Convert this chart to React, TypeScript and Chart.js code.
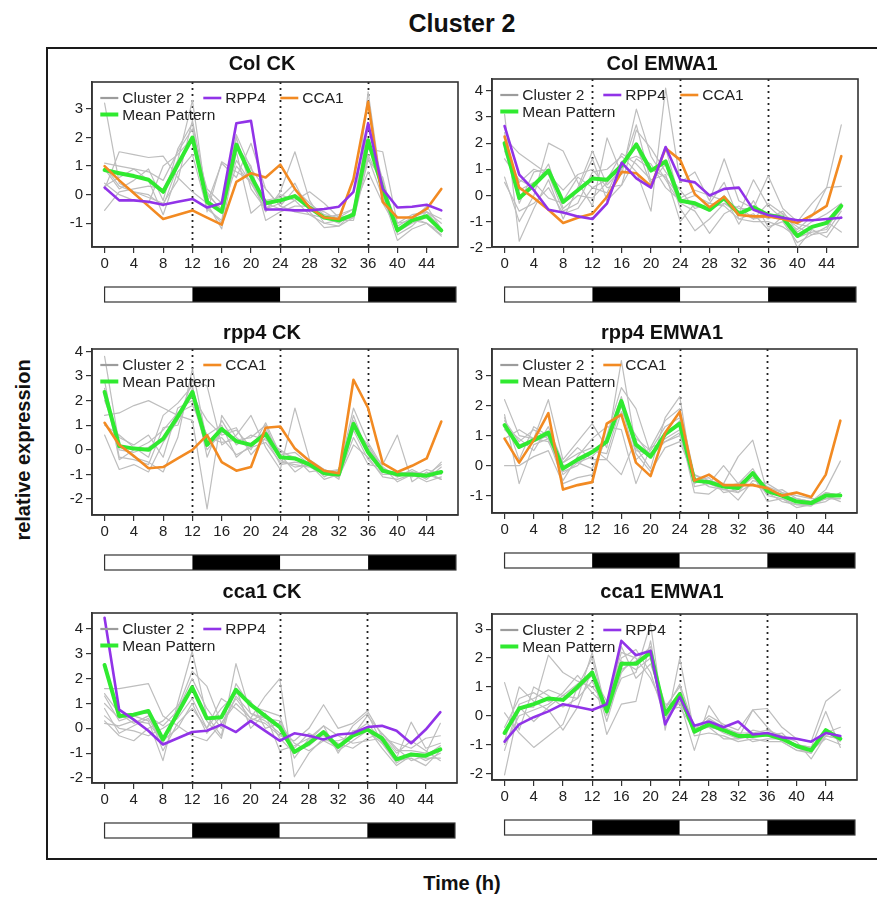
import React, { useEffect, useRef } from "react";
import { Chart, registerables } from "chart.js";

Chart.register(...registerables);

// ---------------- DATA ----------------
const HOURS = [0, 2, 4, 6, 8, 10, 12, 14, 16, 18, 20, 22, 24, 26, 28, 30, 32, 34, 36, 38, 40, 42, 44, 46];
const X_TICKS = [0, 4, 8, 12, 16, 20, 24, 28, 32, 36, 40, 44];
const DIVIDER_HOURS = [12, 24, 36];
const BAR_STARTS = [0, 12, 24, 36];
const BAR_ENDS = [12, 24, 36, 48];
const BAR_FILLS = ["#ffffff", "#000000", "#ffffff", "#000000"];

const PANEL_TITLES = ["Col CK", "Col EMWA1", "rpp4 CK", "rpp4 EMWA1", "cca1 CK", "cca1 EMWA1"];
const MAIN_TITLE = "Cluster 2";
const Y_LABEL = "relative expression";
const X_LABEL = "Time (h)";
const LEGEND_CLUSTER = "Cluster 2";
const LEGEND_MEAN = "Mean Pattern";
const LEGEND_RPP4 = "RPP4";
const LEGEND_CCA1 = "CCA1";

// Col CK
const colCK_yTicks = [-1, 0, 1, 2, 3];
const colCK_cluster = [
  [3.2, 0.4, 0.1, -0.1, -0.3, 0.5, 2.6, 0.0, -0.5, 1.2, 0.4, -0.5, -0.3, 0.0, -0.5, -0.8, -1.0, -0.6, 2.4, 0.5, -1.3, -1.0, -0.8, -1.3],
  [0.2, 1.5, 1.4, 1.3, 1.35, 0.6, 0.1, -0.3, 1.1, 0.6, 1.8, 0.2, -0.4, 0.2, -0.3, -0.7, -0.8, -0.7, 1.6, 1.5, -1.0, -0.7, -0.6, -1.0],
  [-0.55, 0.1, 0.2, 0.3, 0.2, 1.2, 3.3, -0.3, -1.2, 1.5, -0.65, -0.2, -0.1, 0.4, -0.6, -1.15, -1.1, -0.8, 3.6, 0.0, -1.6, -1.2, -1.0, -1.45],
  [1.1, 1.0, 0.9, 0.8, 0.5, 1.5, 2.3, -0.6, 1.15, 0.8, 0.5, -0.6, 0.1, 1.5, -0.2, -1.0, -0.9, -0.9, 1.2, 0.6, -1.4, -1.1, -0.6, -0.85],
  [0.3, 0.6, 0.9, 0.5, -0.7, 0.8, 1.4, -0.5, -0.9, 1.7, 1.0, -0.9, -0.6, -0.4, -0.4, -0.6, -0.9, -0.8, 1.4, 0.3, -1.0, -0.9, -0.4, -1.2],
  [1.0, 0.3, 0.1, 0.0, -0.4, 1.0, 2.0, 0.2, -0.3, 2.1, 0.9, 0.2, -0.4, -0.6, -0.7, -0.8, -0.7, -0.5, 1.9, 0.0, -1.1, -0.8, -1.0, -1.4],
  [0.4, 0.0, -0.2, -0.3, 1.0, 1.4, 2.0, 0.1, -0.6, 1.0, 0.4, -0.3, -0.5, -0.2, 0.1, -0.3, -0.8, -0.5, 0.8, -0.3, -1.2, -0.9, -1.0, -1.3],
  [0.9, 0.2, 0.5, 0.9, -0.2, 1.6, 2.5, -0.4, -1.0, 2.0, 0.2, -0.5, 0.0, -0.2, -0.7, -1.0, -1.1, -0.6, 1.3, -0.1, -1.3, -0.8, -0.6, -1.2],
];
const colCK_mean = [0.86, 0.75, 0.65, 0.52, 0.1, 1.05, 2.0, -0.25, -0.6, 1.75, 0.65, -0.3, -0.2, -0.05, -0.45, -0.8, -0.9, -0.7, 1.9, 0.2, -1.25, -0.9, -0.75, -1.25];
const colCK_RPP4 = [0.25, -0.2, -0.2, -0.25, -0.35, -0.25, -0.15, -0.45, -0.3, 2.5, 2.58, -0.52, -0.52, -0.55, -0.55, -0.5, -0.42, 0.1, 2.5, 0.2, -0.45, -0.42, -0.35, -0.55];
const colCK_CCA1 = [1.0, 0.5, 0.05, -0.4, -0.85, -0.7, -0.55, -0.8, -1.05, 0.45, 0.75, 0.6, 1.05, 0.2, -0.45, -0.8, -0.85, 0.55, 3.25, -0.25, -0.8, -0.8, -0.5, 0.2];

// Col EMWA1
const colEM_yTicks = [-2, -1, 0, 1, 2, 3, 4];
const colEM_cluster = [
  [3.1, -1.75, -0.5, 0.6, -0.9, 0.3, 1.7, 0.4, 1.0, 2.7, 0.5, 1.2, -0.5, -1.35, -0.9, -0.3, -0.7, 0.6, -0.4, -0.9, -1.3, -0.8, 0.3, 2.7],
  [0.7, -1.0, 0.0, 2.0, 1.7, 0.5, -0.4, 2.2, 0.8, 3.3, 1.5, 0.6, -0.3, -0.6, -1.45, -0.7, -0.4, -0.9, -0.3, -0.7, -1.1, -1.2, -1.0, -1.4],
  [2.2, 1.6, 1.2, 0.8, -0.6, -0.3, 0.9, 1.0, 1.5, 0.9, -0.6, 4.1, 0.5, 0.9, -0.2, 1.4, -0.2, -0.5, 0.75, -0.5, -1.0, -0.3, 0.3, 0.35],
  [0.5, -0.6, -0.3, 0.3, -0.7, -0.5, 0.3, 0.6, 1.6, 1.2, 0.6, 0.8, -1.0, -0.3, -0.6, 0.0, -1.1, -0.2, -1.2, -1.0, -1.8, -1.5, -1.2, -0.5],
  [1.7, 0.2, 0.5, -0.1, -0.3, 0.2, 1.4, -0.2, 0.4, 2.5, 1.8, 0.9, 0.2, -0.5, -0.3, 0.5, -0.9, -1.0, -1.0, -1.2, -1.6, -1.4, -1.3, -0.3],
  [2.4, -0.3, 0.9, 1.0, -0.2, 0.7, 0.3, 0.1, 1.3, 1.5, 1.2, 0.3, -0.2, 0.0, -0.3, -0.4, -0.9, -0.7, -1.3, -0.8, -1.2, -1.5, -1.4, -0.6],
  [1.4, 0.6, 0.3, 1.2, -0.5, 0.0, -0.1, 0.5, 1.2, 1.9, 0.4, 1.8, -0.2, -0.4, -0.5, -0.3, -0.6, -0.9, -0.8, -0.7, -2.0, -1.3, -1.6, -0.8],
  [1.8, 0.5, 1.0, 0.8, 0.2, 0.8, 1.0, 0.3, 0.4, 1.4, 1.0, 0.7, -0.1, 0.2, 0.0, -0.2, -0.5, -0.5, -0.9, -0.6, -1.4, -1.0, -0.7, -0.3],
];
const colEM_mean = [2.0, -0.1, 0.4, 0.95, -0.25, 0.2, 0.65, 0.6, 1.15, 1.95, 0.95, 1.3, -0.2, -0.3, -0.55, -0.1, -0.7, -0.45, -0.75, -0.85, -1.55, -1.2, -1.05, -0.4];
const colEM_RPP4 = [2.65, 0.8, 0.2, -0.55, -0.65, -0.8, -0.9, -0.3, 1.25, 0.65, 0.3, 1.85, 0.6, 0.5, 0.0, 0.25, 0.3, -0.55, -0.75, -0.85, -0.95, -0.95, -0.9, -0.85];
const colEM_CCA1 = [2.25, 0.3, -0.1, -0.55, -1.05, -0.85, -0.7, -0.05, 0.9, 0.85, 0.35, 1.8, 1.35, 0.05, -0.45, -0.05, -0.75, -0.8, -0.8, -0.9, -1.05, -0.75, -0.4, 1.5];

// rpp4 CK
const rppCK_yTicks = [-2, -1, 0, 1, 2, 3, 4];
const rppCK_cluster = [
  [3.8, 0.2, -0.3, -0.5, -0.9, 0.5, 3.3, 0.3, 0.5, -0.2, 0.1, 0.3, -0.5, -0.6, -0.7, -1.0, -0.9, 1.7, 0.3, -0.7, -1.1, -0.9, -1.2, -0.7],
  [1.4, 1.5, 1.8, 2.0, 1.7, 1.4, 1.2, -2.4, 1.4, 0.5, 0.0, 1.1, -0.2, -0.9, -0.5, -1.1, -0.8, 1.2, 0.0, -0.6, 0.6, -1.3, -0.9, -1.2],
  [0.6, -0.8, -0.6, -0.9, 0.3, 1.2, 2.8, 2.6, 0.2, 0.6, 1.4, 0.1, -0.8, 1.7, -0.4, -0.8, -1.2, 0.8, -0.4, -1.0, -1.0, -0.9, -1.0, -0.6],
  [2.5, -0.4, 0.0, 0.3, 0.8, 1.5, 1.8, 0.6, 1.0, -0.3, 0.2, 0.8, -0.1, -0.3, -0.9, -0.8, -1.1, 0.2, -0.3, -1.1, -1.2, -1.0, -1.3, -1.1],
  [2.0, 0.5, 0.2, 0.6, -0.3, 1.7, 2.0, 0.0, 0.7, 0.9, -0.2, 0.5, -0.6, -0.5, -0.6, -1.2, -1.0, 1.4, -0.2, -0.9, -0.9, -1.1, -0.8, -1.0],
  [2.8, -0.3, -0.4, -0.6, 0.9, 1.0, 2.5, 0.5, 0.3, 0.4, 0.5, 1.0, -0.4, -0.7, -0.6, -0.9, -0.8, 0.9, 0.2, -0.8, -1.1, -0.8, -1.1, -0.5],
  [1.0, 0.6, 0.1, -0.3, 1.4, 1.9, 2.6, -0.3, 1.2, 0.2, 0.6, 0.4, 0.0, -0.4, -0.5, -1.0, -1.1, 0.5, -0.6, -0.7, -1.3, -1.0, -1.0, -1.2],
  [2.4, 0.0, -0.1, 0.1, 0.5, 1.5, 2.2, 1.2, 0.6, 0.8, 0.1, 0.7, -0.2, -0.1, -0.6, -0.8, -1.0, 1.0, 0.1, -0.9, -0.9, -1.0, -1.1, -0.9],
];
const rppCK_mean = [2.35, 0.15, 0.05, 0.0, 0.45, 1.35, 2.35, 0.2, 0.85, 0.35, 0.2, 0.65, -0.3, -0.35, -0.6, -0.95, -1.0, 1.05, -0.1, -0.85, -1.0, -1.0, -1.05, -0.9];
const rppCK_CCA1 = [1.1, 0.2, -0.25, -0.75, -0.7, -0.35, 0.0, 0.6, -0.5, -0.85, -0.7, 0.9, 0.95, 0.05, -0.45, -0.85, -0.95, 2.85, 1.7, -0.55, -0.9, -0.65, -0.35, 1.15];

// rpp4 EMWA1
const rppEM_yTicks = [-1, 0, 1, 2, 3];
const rppEM_cluster = [
  [2.2, 1.0, 0.9, 2.2, 0.2, 0.8, 1.4, 0.6, 3.5, 0.6, -0.1, 1.6, 2.3, -0.7, -0.6, 0.0, -0.6, -0.3, -1.2, -1.1, -1.3, -1.35, -1.0, -1.2],
  [0.0, 0.0, 0.3, 0.5, -0.6, -0.4, -0.3, 1.0, 2.6, 1.9, 0.4, 0.9, 1.2, -0.9, -0.95, -0.6, 0.3, 0.85, -0.9, -1.0, -1.1, -1.2, -0.8, 0.15],
  [1.7, -0.6, 0.7, 0.9, -0.5, 0.3, 0.9, 1.3, 1.2, -0.6, 0.6, 0.8, 1.1, -0.3, -0.5, -0.7, -1.15, -0.5, -0.6, -0.9, -1.2, -1.3, -0.9, -1.0],
  [1.2, 0.7, 0.8, 1.0, 0.1, 0.6, 0.2, 0.2, -0.3, 0.9, 0.5, 1.3, 1.6, -0.5, -0.4, -0.9, -0.8, -0.4, -0.7, -0.9, -1.0, -1.1, -1.1, -1.1],
  [1.5, 0.8, 1.2, 0.9, 0.0, 0.1, -0.1, 0.9, 2.3, 0.4, -0.2, 0.6, 0.8, -0.4, -0.7, -0.8, -0.9, -0.6, -0.9, -1.2, -1.3, -1.3, -1.2, -0.9],
  [0.9, 1.2, 0.9, 0.8, -0.2, 0.0, 0.5, 0.4, 2.0, 0.2, 0.6, 1.5, 1.9, -0.3, -0.6, -0.8, -0.7, -0.2, -0.8, -1.0, -1.2, -1.3, -1.1, -1.0],
  [1.3, 0.9, 0.5, 1.3, 0.1, 0.4, 0.6, 0.2, 1.8, 1.0, 0.3, 0.8, 1.0, -0.6, -0.3, -0.7, -0.6, -0.1, -0.9, -0.8, -1.1, -1.2, -0.9, -1.0],
  [1.6, 0.2, 1.3, 1.0, -0.3, 0.1, 0.3, 0.8, 2.2, 0.5, 0.4, 1.0, 1.5, -0.5, -0.5, -0.6, -0.9, -0.3, -1.0, -1.1, -1.4, -1.3, -1.1, -1.1],
];
const rppEM_mean = [1.35, 0.62, 0.85, 1.1, -0.1, 0.2, 0.45, 0.8, 2.15, 0.7, 0.3, 1.05, 1.4, -0.5, -0.55, -0.7, -0.75, -0.25, -0.85, -1.0, -1.2, -1.25, -1.0, -1.0];
const rppEM_CCA1 = [0.9, 0.1, 0.85, 1.75, -0.8, -0.65, -0.55, 1.4, 1.7, 0.1, -0.35, 1.1, 1.8, -0.5, -0.3, -0.65, -0.65, -0.65, -0.75, -1.0, -0.9, -1.05, -0.3, 1.5];

// cca1 CK
const ccaCK_yTicks = [-2, -1, 0, 1, 2, 3, 4];
const ccaCK_cluster = [
  [1.6, 1.6, 1.7, 1.8, 0.5, 0.1, -0.3, -0.5, 0.2, 1.0, 0.4, 0.2, -0.3, -0.5, 0.0, 0.95, 0.0, 0.2, 0.7, -0.3, -1.0, -0.5, -0.9, -1.3],
  [1.3, 0.3, 0.5, 0.3, -1.3, 1.0, 3.1, 0.5, -0.3, 2.6, 0.6, 0.3, -0.2, -0.9, -0.7, -0.2, -0.9, -0.5, -0.1, -0.6, -1.3, -1.2, -1.5, -0.9],
  [0.8, -0.2, 0.1, 0.4, -0.6, 0.8, 2.3, 1.7, 0.2, 1.2, 0.4, 1.3, 2.0, -1.95, -1.0, -0.4, -0.7, -0.2, 0.2, -0.5, -1.2, 0.25, -0.8, -0.6],
  [0.5, 0.0, -0.1, -0.3, 0.0, 0.4, 1.2, 0.0, 1.2, 0.8, 0.3, 0.6, -0.9, -0.7, -0.4, -0.3, -0.6, -0.8, -0.4, -0.2, -0.9, -0.9, -1.0, 0.2],
  [0.3, -0.3, -0.5, 0.0, 0.3, 0.9, 1.6, 0.3, -0.4, 1.8, 0.9, 0.7, 0.5, -1.2, -0.4, 0.1, -1.0, -0.1, 0.0, -0.8, -1.5, -1.1, -1.2, -1.2],
  [1.0, 0.4, 0.6, 0.6, -0.9, 0.2, 0.8, 0.0, 0.8, 1.4, 1.1, 0.0, 0.2, -0.6, -0.9, -0.5, -0.5, -0.3, 0.5, -0.2, -0.8, -1.3, -1.1, -0.7],
  [0.2, 0.1, 0.3, 0.2, -0.5, 0.0, 1.0, -0.2, 0.5, 1.6, 0.0, 0.6, -0.4, -1.0, -0.5, 0.1, -0.3, -0.6, -0.5, -0.4, -0.6, -0.8, -0.4, -0.3],
  [1.4, 0.6, 0.2, 0.5, 0.1, 0.7, 2.0, 0.8, 0.0, 1.3, 0.6, 0.4, 0.3, -0.8, -0.2, -0.5, -0.8, 0.1, 0.6, -0.6, -1.4, -1.0, -1.3, -1.0],
];
const ccaCK_mean = [2.55, 0.5, 0.55, 0.7, -0.45, 0.6, 1.65, 0.4, 0.45, 1.55, 0.95, 0.5, 0.05, -0.95, -0.6, -0.15, -0.75, -0.3, -0.05, -0.4, -1.25, -1.05, -1.1, -0.85];
const ccaCK_RPP4 = [4.45, 0.75, 0.35, -0.1, -0.65, -0.4, -0.15, -0.1, 0.15, -0.15, 0.3, -0.1, -0.5, -0.2, -0.3, -0.45, -0.25, -0.2, 0.05, 0.1, -0.1, -0.6, -0.05, 0.65];

// cca1 EMWA1
const ccaEM_yTicks = [-2, -1, 0, 1, 2, 3];
const ccaEM_cluster = [
  [1.15, -0.5, 1.0, 0.7, 0.3, 0.6, 2.2, 0.1, 1.3, 1.5, 3.2, -0.5, 2.0, -0.6, -0.3, -0.6, -0.8, -0.5, -0.6, -0.7, -0.9, -1.5, -0.7, -0.8],
  [-2.05, 0.3, 0.3, 2.1, 1.5, 1.2, 1.0, 0.4, 2.2, 2.0, 1.3, 0.2, 0.3, -0.5, 0.0, -0.3, -0.5, 0.2, 0.25, -0.4, -0.8, -0.9, 0.5, 0.9],
  [-0.9, 1.0, 0.5, 0.2, -0.5, 0.3, 1.6, -0.65, 0.4, 0.5, 2.6, -0.2, 0.5, -1.2, 0.35, -0.4, -0.7, -0.6, -0.7, -0.8, -1.0, -1.1, 0.15, -1.1],
  [0.1, -0.6, -1.1, -0.7, -0.3, 1.0, 2.0, 0.0, 1.6, 1.9, 2.4, 0.1, 0.8, -0.7, -0.6, -0.7, -0.9, -0.8, -0.9, -0.9, -1.2, -1.2, -0.8, -1.0],
  [-1.0, 0.0, 0.2, 0.4, 0.8, 1.4, 0.8, 0.3, 1.9, 1.6, 2.0, 0.4, 0.4, -0.3, -0.4, -0.5, -0.6, -0.6, -0.5, -0.7, -1.1, -1.3, -0.6, -0.4],
  [-0.4, 0.6, 0.8, 0.5, 0.6, 0.9, 1.4, 0.5, 2.0, 2.3, 1.5, -0.1, 0.6, -0.6, -0.1, -0.4, -0.6, -0.9, -0.8, -0.8, -1.0, -1.1, -0.6, -0.7],
  [-0.6, 0.3, -0.2, 0.3, 0.7, 0.6, 1.2, 0.2, 2.4, 1.3, 1.8, 0.3, 1.0, -0.5, -0.4, -0.8, -0.8, 0.2, -0.4, -0.9, -1.2, -1.3, -0.5, -0.9],
  [-1.2, 0.4, 0.6, 0.9, 0.7, 1.1, 1.5, -0.2, 1.5, 2.1, 2.3, 0.2, 1.1, -0.4, -0.4, -0.5, -0.8, -0.7, -0.7, -0.6, -1.1, -1.2, -0.7, -0.8],
];
const ccaEM_mean = [-0.6, 0.25, 0.4, 0.6, 0.55, 1.0, 1.5, 0.15, 1.8, 1.8, 2.2, 0.05, 0.75, -0.55, -0.3, -0.5, -0.7, -0.7, -0.65, -0.8, -1.05, -1.2, -0.5, -0.8];
const ccaEM_RPP4 = [-0.9, -0.3, -0.05, 0.15, 0.4, 0.3, 0.2, 0.4, 2.6, 2.1, 2.25, -0.3, 0.65, -0.35, -0.2, -0.4, -0.2, -0.65, -0.6, -0.75, -0.8, -0.9, -0.6, -0.7];

// ---------------- STYLE / LAYOUT ----------------
const FONT = '"Liberation Sans", Arial, Helvetica, sans-serif';
const GRAY = "#bebebe";
const LEGEND_GRAY = "#9c9c9c";
const PURPLE = "#9133e8";
const ORANGE = "#f28a22";
const GREEN = "#30ea30";
const INK = "#222222";

const X_MIN = -1.72;
const X_MAX = 48.28;
const PAD_LEFT = 60;
const PAD_TOP = 45;
const PAD_RIGHT = 8;
const X_AXIS_H = 65;

type Series = { label: string; values: number[]; color: string };
type PanelSpec = {
  title: string;
  cluster: number[][];
  mean: number[];
  extras: Series[];
  yTicks: number[];
  yMin: number;
  yMax: number;
  box: { l: number; r: number; t: number; b: number };
  titleBaseline: number;
};

const PANELS: PanelSpec[] = [
  { title: PANEL_TITLES[0], cluster: colCK_cluster, mean: colCK_mean,
    extras: [{ label: LEGEND_RPP4, values: colCK_RPP4, color: PURPLE }, { label: LEGEND_CCA1, values: colCK_CCA1, color: ORANGE }],
    yTicks: colCK_yTicks, yMin: -1.83, yMax: 3.94, box: { l: 92, r: 458, t: 82, b: 247 }, titleBaseline: 70 },
  { title: PANEL_TITLES[1], cluster: colEM_cluster, mean: colEM_mean,
    extras: [{ label: LEGEND_RPP4, values: colEM_RPP4, color: PURPLE }, { label: LEGEND_CCA1, values: colEM_CCA1, color: ORANGE }],
    yTicks: colEM_yTicks, yMin: -1.97, yMax: 4.45, box: { l: 492, r: 858, t: 79, b: 247 }, titleBaseline: 70 },
  { title: PANEL_TITLES[2], cluster: rppCK_cluster, mean: rppCK_mean,
    extras: [{ label: LEGEND_CCA1, values: rppCK_CCA1, color: ORANGE }],
    yTicks: rppCK_yTicks, yMin: -2.65, yMax: 4.1, box: { l: 92, r: 458, t: 349, b: 515 }, titleBaseline: 339 },
  { title: PANEL_TITLES[3], cluster: rppEM_cluster, mean: rppEM_mean,
    extras: [{ label: LEGEND_CCA1, values: rppEM_CCA1, color: ORANGE }],
    yTicks: rppEM_yTicks, yMin: -1.58, yMax: 3.89, box: { l: 492, r: 857, t: 349, b: 513 }, titleBaseline: 339 },
  { title: PANEL_TITLES[4], cluster: ccaCK_cluster, mean: ccaCK_mean,
    extras: [{ label: LEGEND_RPP4, values: ccaCK_RPP4, color: PURPLE }],
    yTicks: ccaCK_yTicks, yMin: -2.2, yMax: 4.64, box: { l: 92, r: 457, t: 613, b: 783 }, titleBaseline: 598 },
  { title: PANEL_TITLES[5], cluster: ccaEM_cluster, mean: ccaEM_mean,
    extras: [{ label: LEGEND_RPP4, values: ccaEM_RPP4, color: PURPLE }],
    yTicks: ccaEM_yTicks, yMin: -2.23, yMax: 3.53, box: { l: 492, r: 857, t: 614, b: 780 }, titleBaseline: 598 },
];

const toPoints = (vals: number[]) => HOURS.map((h, i) => ({ x: h, y: vals[i] }));

const decorPlugin = {
  id: "panelDecor",
  beforeDatasetsDraw(chart: any, _args: any, opts: any) {
    const { ctx, chartArea } = chart;
    const { left, right, top, bottom } = chartArea;
    const x = chart.scales.x;
    ctx.save();
    ctx.beginPath();
    ctx.rect(left, top, right - left, bottom - top);
    ctx.clip();
    ctx.setLineDash([2, 4]);
    ctx.lineWidth = 1.8;
    ctx.strokeStyle = INK;
    for (const h of DIVIDER_HOURS) {
      const px = Math.round(x.getPixelForValue(h)) + 0.5;
      ctx.beginPath();
      ctx.moveTo(px, top);
      ctx.lineTo(px, bottom);
      ctx.stroke();
    }
    ctx.restore();
  },
  afterDatasetsDraw(chart: any, _args: any, opts: any) {
    const { ctx, chartArea } = chart;
    const { left, right, top, bottom } = chartArea;
    const x = chart.scales.x;
    ctx.save();
    // box
    ctx.lineWidth = 1.6;
    ctx.strokeStyle = "#333";
    ctx.strokeRect(left, top, right - left, bottom - top);

    // legend
    ctx.font = `15.5px ${FONT}`;
    ctx.textBaseline = "middle";
    ctx.textAlign = "left";
    ctx.fillStyle = INK;
    ctx.lineCap = "butt";
    const row1 = top + 16;
    const row2 = top + 32.5;
    const items = opts.legend as { label: string; color: string; width: number }[];
    const slots = [8.3, 111.3, 188.3];
    items.forEach((it, i) => {
      const sx = left + slots[i];
      ctx.strokeStyle = it.color;
      ctx.lineWidth = it.width;
      ctx.beginPath();
      ctx.moveTo(sx, row1);
      ctx.lineTo(sx + 18, row1);
      ctx.stroke();
      ctx.fillText(it.label, sx + 22, row1 + 1);
    });
    ctx.strokeStyle = GREEN;
    ctx.lineWidth = 4;
    ctx.beginPath();
    ctx.moveTo(left + 8.3, row2);
    ctx.lineTo(left + 26.3, row2);
    ctx.stroke();
    ctx.fillText(LEGEND_MEAN, left + 30.3, row2 + 1);

    // title
    ctx.font = `bold 20px ${FONT}`;
    ctx.textAlign = "center";
    ctx.textBaseline = "alphabetic";
    ctx.fillStyle = "#111";
    ctx.fillText(opts.title, left + 170, top - opts.titleGap);

    // light/dark bar
    const by = bottom + 40;
    const bh = 15;
    BAR_STARTS.forEach((s, i) => {
      const x0 = x.getPixelForValue(s);
      const x1 = x.getPixelForValue(BAR_ENDS[i]);
      ctx.fillStyle = BAR_FILLS[i];
      ctx.fillRect(x0, by, x1 - x0, bh);
    });
    const bx0 = x.getPixelForValue(BAR_STARTS[0]);
    const bx1 = x.getPixelForValue(BAR_ENDS[BAR_ENDS.length - 1]);
    ctx.lineWidth = 1.2;
    ctx.strokeStyle = "#333";
    ctx.strokeRect(bx0, by, bx1 - bx0, bh);
    ctx.restore();
  },
};

function Panel({ spec }: { spec: PanelSpec }) {
  const ref = useRef<HTMLCanvasElement>(null);
  const { box } = spec;
  const width = box.r - box.l + PAD_LEFT + PAD_RIGHT;
  const height = box.b - box.t + PAD_TOP + X_AXIS_H;

  useEffect(() => {
    const datasets: any[] = [];
    spec.cluster.forEach((arr, i) => {
      datasets.push({
        label: `${LEGEND_CLUSTER} ${i + 1}`,
        data: toPoints(arr),
        borderColor: GRAY,
        borderWidth: 1.2,
        order: 3,
      });
    });
    datasets.push({ label: LEGEND_MEAN, data: toPoints(spec.mean), borderColor: GREEN, borderWidth: 4, order: 2 });
    spec.extras.forEach((s) => {
      datasets.push({ label: s.label, data: toPoints(s.values), borderColor: s.color, borderWidth: 2.6, order: 1 });
    });

    const legendItems = [
      { label: LEGEND_CLUSTER, color: LEGEND_GRAY, width: 2.2 },
      ...spec.extras.map((s) => ({ label: s.label, color: s.color, width: 2.6 })),
    ];

    const tickFont = { family: FONT, size: 15 };
    const chart = new Chart(ref.current as HTMLCanvasElement, {
      type: "line",
      data: { datasets },
      options: {
        responsive: false,
        animation: false,
        events: [],
        elements: {
          point: { radius: 0 },
          line: { tension: 0, borderJoinStyle: "round", borderCapStyle: "round", fill: false },
        },
        layout: { padding: { left: 0, top: PAD_TOP, right: PAD_RIGHT, bottom: 0 } },
        plugins: {
          legend: { display: false },
          tooltip: { enabled: false },
          title: { display: false },
          panelDecor: { legend: legendItems, title: spec.title, titleGap: box.t - spec.titleBaseline },
        } as any,
        scales: {
          x: {
            type: "linear",
            min: X_MIN,
            max: X_MAX,
            afterBuildTicks: (s: any) => {
              s.ticks = X_TICKS.map((v) => ({ value: v }));
            },
            afterFit: (s: any) => {
              s.height = X_AXIS_H;
            },
            ticks: { autoSkip: false, maxRotation: 0, minRotation: 0, padding: 2, color: INK, font: tickFont, callback: (v: any) => String(v) },
            grid: { drawOnChartArea: false, drawTicks: true, tickLength: 6, color: "#333", lineWidth: 1.2 },
            border: { display: true, color: "#333", width: 1.6 },
          },
          y: {
            type: "linear",
            min: spec.yMin,
            max: spec.yMax,
            afterBuildTicks: (s: any) => {
              s.ticks = spec.yTicks.map((v) => ({ value: v }));
            },
            afterFit: (s: any) => {
              s.width = PAD_LEFT;
            },
            ticks: { autoSkip: false, padding: 3, color: INK, font: tickFont, callback: (v: any) => String(v) },
            grid: { drawOnChartArea: false, drawTicks: true, tickLength: 6, color: "#333", lineWidth: 1.2 },
            border: { display: true, color: "#333", width: 1.6 },
          },
        },
      } as any,
      plugins: [decorPlugin as any],
    });
    return () => chart.destroy();
  }, [spec]);

  return (
    <canvas
      ref={ref}
      width={width}
      height={height}
      style={{ position: "absolute", left: box.l - PAD_LEFT, top: box.t - PAD_TOP, width, height }}
    />
  );
}

export default function App() {
  return (
    <div
      style={{
        position: "absolute",
        left: 0,
        top: 0,
        width: 877,
        height: 897,
        overflow: "hidden",
        background: "#ffffff",
        fontFamily: FONT,
      }}
    >
      <div
        style={{
          position: "absolute",
          left: 45.5,
          top: 47,
          width: 900,
          height: 812.5,
          boxSizing: "border-box",
          border: "2.5px solid #1a1a1a",
        }}
      />
      <div
        style={{
          position: "absolute",
          left: 262,
          top: 11,
          width: 400,
          height: 25,
          lineHeight: "25px",
          fontSize: 25,
          fontWeight: "bold",
          textAlign: "center",
          color: "#111",
        }}
      >
        {MAIN_TITLE}
      </div>
      <div
        style={{
          position: "absolute",
          left: 23 - 150,
          top: 450 - 10,
          width: 300,
          height: 20,
          lineHeight: "20px",
          fontSize: 20,
          fontWeight: "bold",
          textAlign: "center",
          color: "#111",
          transform: "rotate(-90deg)",
          transformOrigin: "50% 50%",
        }}
      >
        {Y_LABEL}
      </div>
      <div
        style={{
          position: "absolute",
          left: 312,
          top: 873,
          width: 300,
          height: 20,
          lineHeight: "20px",
          fontSize: 20,
          fontWeight: "bold",
          textAlign: "center",
          color: "#111",
        }}
      >
        {X_LABEL}
      </div>
      {PANELS.map((p) => (
        <Panel key={p.title} spec={p} />
      ))}
    </div>
  );
}
